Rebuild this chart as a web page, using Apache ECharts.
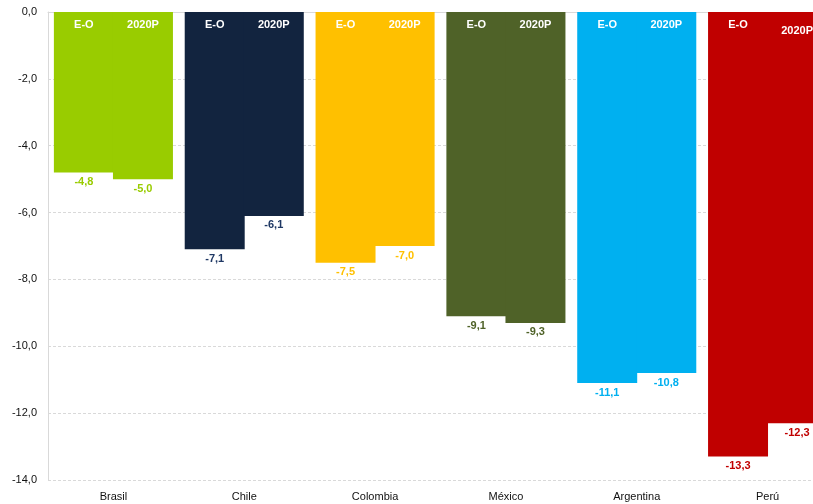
<!DOCTYPE html>
<html><head><meta charset="utf-8">
<script src="https://cdn.jsdelivr.net/npm/echarts@6/dist/echarts.min.js"></script>
<style>html,body{margin:0;padding:0;background:#fff}#c{width:813px;height:504px}</style>
</head><body><div id="c"></div>
<script>
const categories = ['Brasil', 'Chile', 'Colombia', 'México', 'Argentina', 'Perú'];
const seriesNames = ['E-O', '2020P'];
const valuesEO = [-4.8, -7.1, -7.5, -9.1, -11.1, -13.3];
const values2020P = [-5.0, -6.1, -7.0, -9.3, -10.8, -12.3];
const yTicks = [0, -2, -4, -6, -8, -10, -12, -14];

const barColors = ['#99CC00', '#12243F', '#FFC000', '#4F6228', '#00B0F0', '#C00000'];
const labelColors = ['#99CC00', '#1F3864', '#FFC000', '#4F6228', '#00B0F0', '#C00000'];
const FONT = '"Liberation Sans", Arial, sans-serif';
const fmt = v => v.toFixed(1).replace('.', ',');

function makeSeries(name, vals, idx) {
  return {
    name: name,
    type: 'bar',
    barGap: '-1.5%',
    barCategoryGap: '9%',
    xAxisIndex: 0,
    data: vals.map((v, i) => ({
      value: v,
      itemStyle: { color: barColors[i], borderWidth: 0 },
      label: { color: labelColors[i] }
    })),
    label: {
      show: true,
      position: 'bottom',
      distance: 4,
      fontFamily: FONT,
      fontSize: 11,
      fontWeight: 'bold',
      formatter: p => fmt(p.value)
    },
    markPoint: {
      symbol: 'rect',
      symbolSize: 1,
      itemStyle: { color: 'rgba(0,0,0,0)' },
      label: {
        show: true,
        position: 'bottom',
        distance: 7,
        color: '#fff',
        fontFamily: FONT,
        fontSize: 11,
        fontWeight: 'bold',
        formatter: name
      },
      data: categories.map((c, i) => {
        const d = { coord: [c, 0], value: name };
        if (idx === 1 && i === 5) d.label = { distance: 13 };
        return d;
      })
    }
  };
}

const chart = echarts.init(document.getElementById('c'), null, { renderer: 'canvas' });
chart.setOption({
  animation: false,
  backgroundColor: '#fff',
  grid: { left: 48, top: 12, width: 785, height: 468, containLabel: false, outerBoundsMode: 'none' },
  xAxis: [{
    type: 'category',
    data: categories,
    position: 'bottom',
    axisLine: { show: false, onZero: false },
    axisTick: { show: false },
    axisLabel: { color: '#111', fontFamily: FONT, fontSize: 11, margin: 11 }
  }, {
    type: 'category',
    data: categories,
    position: 'top',
    axisLine: { show: true, onZero: false, lineStyle: { color: '#d9d9d9' } },
    axisTick: { show: false },
    axisLabel: { show: false }
  }],
  yAxis: {
    type: 'value',
    min: yTicks[yTicks.length - 1],
    max: yTicks[0],
    interval: 2,
    axisLine: { show: true, lineStyle: { color: '#d9d9d9' } },
    axisTick: { show: false },
    axisLabel: { color: '#111', fontFamily: FONT, fontSize: 11, margin: 11, formatter: v => fmt(v) },
    splitLine: { show: true, lineStyle: { color: '#d9d9d9', type: [3, 2] } }
  },
  series: [makeSeries(seriesNames[0], valuesEO, 0), makeSeries(seriesNames[1], values2020P, 1)]
});
</script></body></html>
